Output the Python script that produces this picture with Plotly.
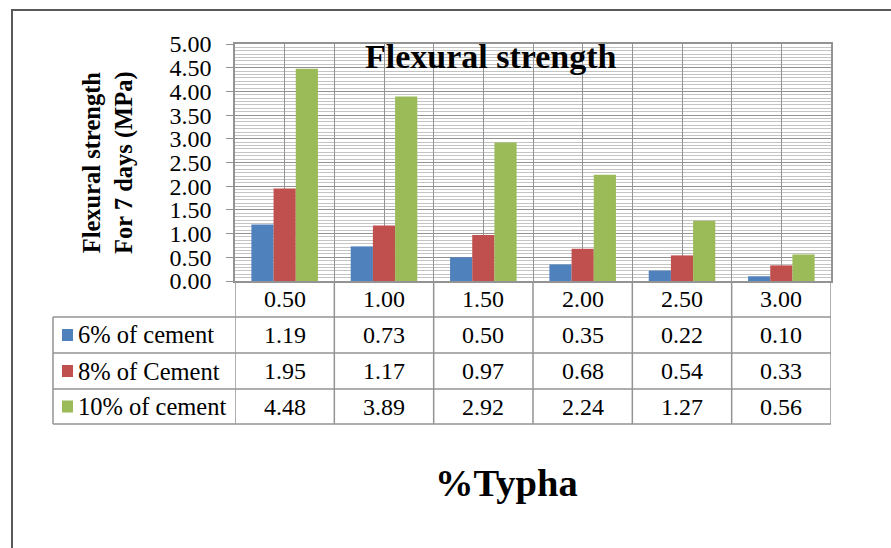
import plotly.graph_objects as go

# ---- data ----
categories = ["0.50", "1.00", "1.50", "2.00", "2.50", "3.00"]
series_names = ["6% of cement", "8% of Cement", "10% of cement"]
cement_6 = [1.19, 0.73, 0.50, 0.35, 0.22, 0.10]
cement_8 = [1.95, 1.17, 0.97, 0.68, 0.54, 0.33]
cement_10 = [4.48, 3.89, 2.92, 2.24, 1.27, 0.56]
y_ticks = [0, 0.5, 1, 1.5, 2, 2.5, 3, 3.5, 4, 4.5, 5]

series_values = [cement_6, cement_8, cement_10]
colors = ["#4F81BD", "#C0504D", "#9BBB59"]

W, H = 891, 548
FONT = "Liberation Serif, Times New Roman, serif"
TXT = 24


def X(px):
    return px / W


def Y(py):
    return 1 - py / H


PLOT_L, PLOT_R, PLOT_T, PLOT_B = 235, 831, 44, 281
ROW_LINES = [281, 317, 353, 389, 424]
TABLE_L = 53
GRID = "#939393"

xs = list(range(len(categories)))

fig = go.Figure()
for name, vals, col in zip(series_names, series_values, colors):
    fig.add_trace(go.Bar(x=xs, y=vals, name=name, marker=dict(color=col, line=dict(width=0)),
                         showlegend=False))

shapes = []
annotations = []

# outer border
shapes.append(dict(type="rect", xref="paper", yref="paper", x0=X(12), x1=X(W + 20),
                   y0=Y(H + 20), y1=Y(10), line=dict(color="#595959", width=2)))

# table horizontal lines (below axis)
for py in ROW_LINES[1:]:
    shapes.append(dict(type="line", xref="paper", yref="paper", x0=X(TABLE_L), x1=X(PLOT_R),
                       y0=Y(py), y1=Y(py), line=dict(color=GRID, width=1.5)))
# table vertical lines
shapes.append(dict(type="line", xref="paper", yref="paper", x0=X(TABLE_L), x1=X(TABLE_L),
                   y0=Y(ROW_LINES[1]), y1=Y(ROW_LINES[-1]), line=dict(color=GRID, width=1.5)))
for i in range(len(categories) + 1):
    shapes.append(dict(type="line", xref="x", yref="paper", x0=i - 0.5, x1=i - 0.5,
                       y0=Y(ROW_LINES[0]), y1=Y(ROW_LINES[-1]), line=dict(color=GRID, width=1.5)))

# header row: category labels
for i, c in enumerate(categories):
    annotations.append(dict(x=i, xref="x", y=Y((ROW_LINES[0] + ROW_LINES[1]) / 2), yref="paper",
                            text=c, showarrow=False, xanchor="center", yanchor="middle",
                            font=dict(family=FONT, size=TXT, color="black")))

# data rows
for r, (name, vals, col) in enumerate(zip(series_names, series_values, colors)):
    ymid = (ROW_LINES[r + 1] + ROW_LINES[r + 2]) / 2
    shapes.append(dict(type="rect", xref="paper", yref="paper", x0=X(62), x1=X(73),
                       y0=Y(ymid + 6), y1=Y(ymid - 6), line=dict(width=0), fillcolor=col))
    annotations.append(dict(x=X(76), xref="paper", y=Y(ymid), yref="paper", text=name,
                            showarrow=False, xanchor="left", yanchor="middle",
                            font=dict(family=FONT, size=TXT + 0.5, color="black")))
    for i, v in enumerate(vals):
        annotations.append(dict(x=i, xref="x", y=Y(ymid), yref="paper", text=f"{v:.2f}",
                                showarrow=False, xanchor="center", yanchor="middle",
                                font=dict(family=FONT, size=TXT, color="black")))

# chart title
annotations.append(dict(x=X(491), xref="paper", y=Y(57), yref="paper", text="<b>Flexural strength</b>",
                        showarrow=False, xanchor="center", yanchor="middle",
                        font=dict(family=FONT, size=34, color="black")))
# y axis title
annotations.append(dict(x=X(108), xref="paper", y=Y(163), yref="paper",
                        text="<b>Flexural strength<br>For 7 days (MPa)</b>", textangle=-90,
                        showarrow=False, xanchor="center", yanchor="middle",
                        font=dict(family=FONT, size=24.5, color="black")))
# x axis title
annotations.append(dict(x=X(507), xref="paper", y=Y(483), yref="paper", text="<b>%Typha</b>",
                        showarrow=False, xanchor="center", yanchor="middle",
                        font=dict(family=FONT, size=38.5, color="black")))

fig.update_layout(
    template="none",
    width=W, height=H,
    margin=dict(l=0, r=0, t=0, b=0, pad=0, autoexpand=False),
    paper_bgcolor="white", plot_bgcolor="white",
    font=dict(family=FONT, color="black"),
    barmode="group", bargap=0.33, bargroupgap=0,
    shapes=shapes, annotations=annotations,
    xaxis=dict(domain=[X(PLOT_L), X(PLOT_R)], range=[-0.5, len(categories) - 0.5],
               tickmode="linear", tick0=-0.5, dtick=0.5, showticklabels=False,
               showgrid=True, gridcolor=GRID, gridwidth=1, zeroline=False, automargin=False,
               showline=True, linecolor=GRID, linewidth=1.5, mirror=True, ticks=""),
    yaxis=dict(domain=[Y(PLOT_B), Y(PLOT_T)], range=[0, 5], tickvals=y_ticks,
               ticktext=[f"{t:.2f}" for t in y_ticks], automargin=False,
               tickfont=dict(family=FONT, size=TXT, color="black"),
               showgrid=True, gridcolor=GRID, gridwidth=1.2, zeroline=False,
               showline=True, linecolor=GRID, linewidth=1.5, mirror=True,
               ticks="outside", ticklen=7, tickcolor=GRID, tickwidth=1.2,
               ticklabelstandoff=10,
               minor=dict(tick0=0, dtick=0.5 / 7, showgrid=True, gridcolor="#C4C4C4",
                          gridwidth=1, ticks="")),
)

fig.write_html("out.html")
